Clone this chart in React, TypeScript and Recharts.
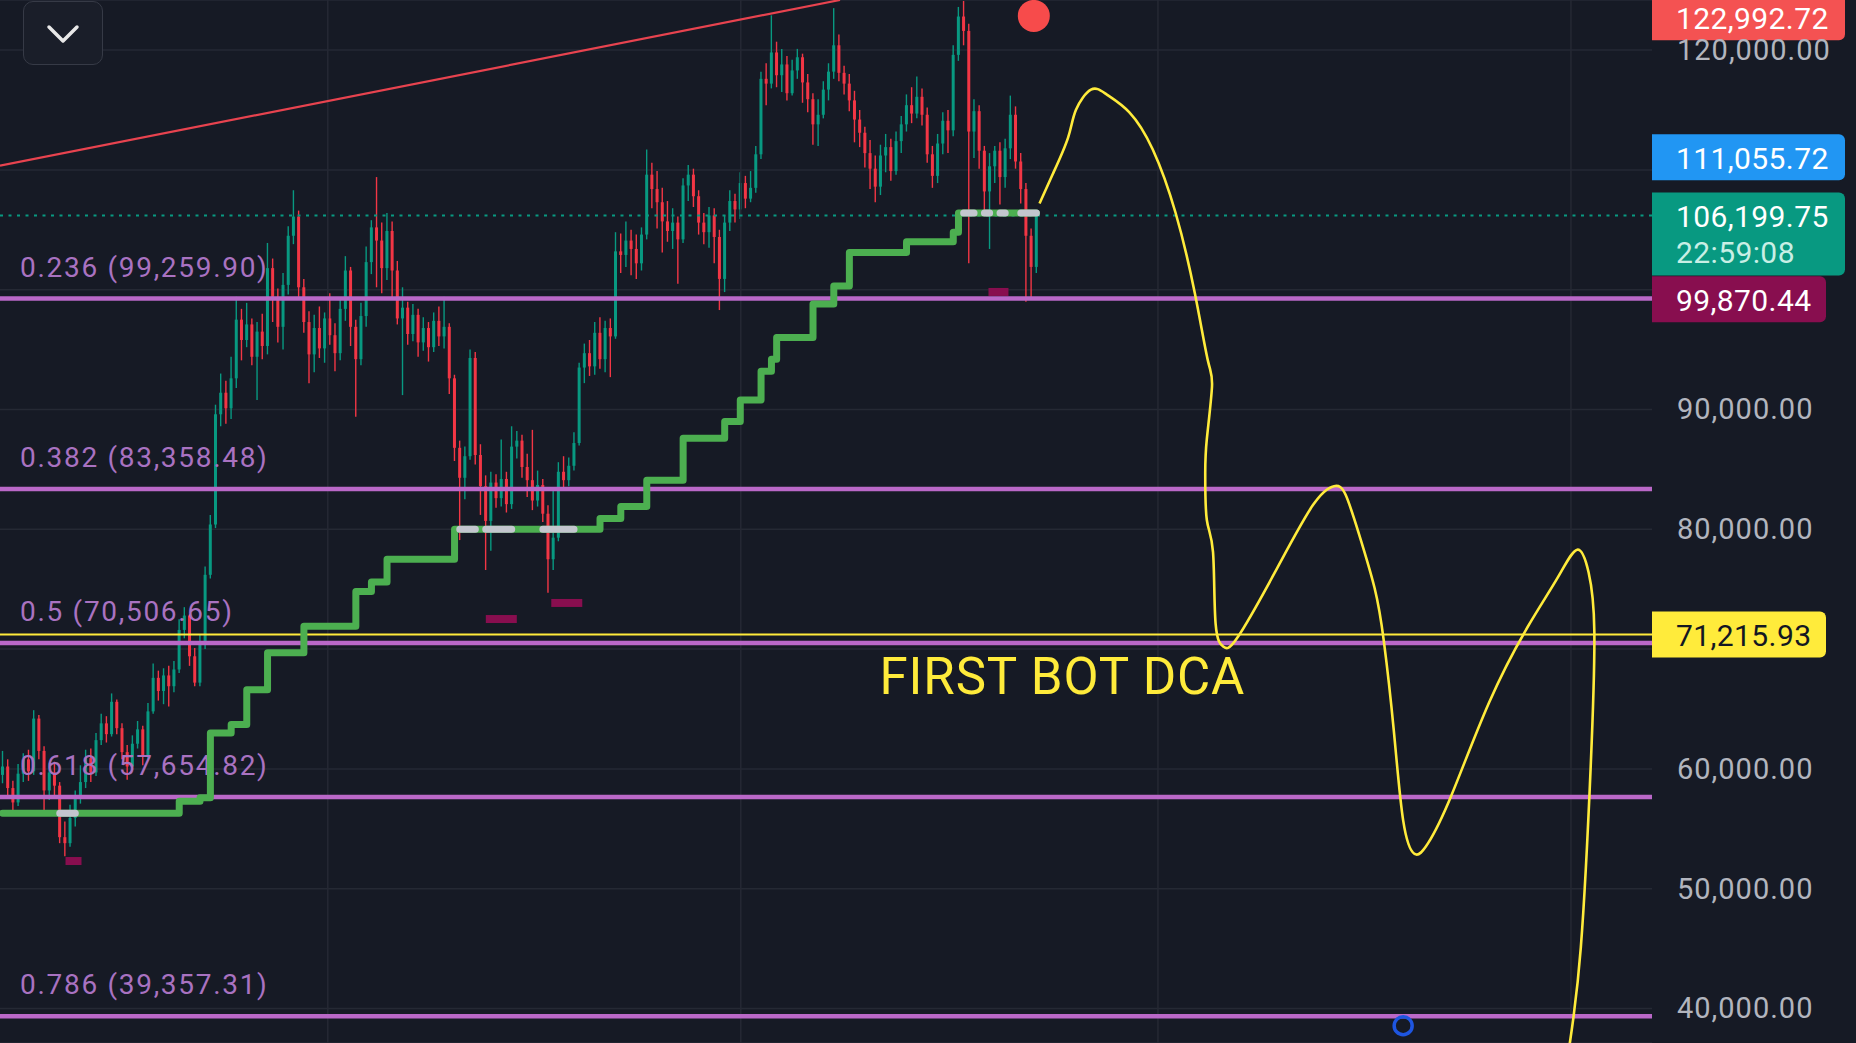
import React from "react";
import {
  Bar,
  CartesianGrid,
  ComposedChart,
  Line,
  ReferenceDot,
  ReferenceLine,
  XAxis,
  YAxis,
} from "recharts";

const WIDTH = 1856;
const HEIGHT = 1043;
const AXIS_WIDTH = 204;
// candle slots incl. the empty space on the right used for the drawing
const SLOTS = 318;

const BG = "#161a25";
const GRID = "#252934";
const UP = "#089981";
const DOWN = "#f23645";
const FIB_LINE = "#ba68c8";
const FIB_TEXT = "#a972c1";
const YELLOW = "#ffeb3b";
const STEP_GREEN = "#4caf50";
const STEP_GRAY = "#c3c6ce";
const FONT = "Roboto, 'Noto Sans', sans-serif";

// candles, in thousands of USD; open = previous close
const FIRST_OPEN = 59.5;
const CLOSE = [
  60.2, 58.4, 57.2, 59.6, 60.8, 59.8, 64.2, 61.5, 58.2, 59.7,
  58.6, 54.3, 53.8, 55.9, 57.6, 58.9, 60.9, 59.7, 62.4, 63.8,
  62.9, 65.6, 63.4, 61.4, 60.2, 62.1, 63.3, 61.0, 64.8, 67.6,
  66.5, 67.8, 66.9, 68.3, 71.6, 72.8, 69.4, 67.2, 70.4, 76.2,
  80.4, 89.6, 91.4, 90.1, 92.6, 97.5, 95.8, 97.1, 94.4, 96.5,
  95.3, 101.8, 99.4, 96.9, 100.4, 104.5, 106.1, 100.2, 97.3, 94.6,
  96.8, 95.1, 97.6, 96.2, 94.7, 98.4, 101.6, 96.9, 94.2, 97.8,
  102.3, 105.2, 104.1, 101.8, 104.9, 101.6, 97.6, 98.5, 96.3, 97.9,
  95.6, 96.8, 95.2, 97.4, 96.1, 96.9, 92.6, 86.8, 84.3, 86.1,
  94.3, 86.2, 83.6, 80.7, 83.9, 82.6, 84.2, 82.1, 86.9, 87.4,
  85.2, 84.1, 82.4, 83.7, 81.3, 77.5, 79.3, 84.8, 84.1, 85.3,
  87.2, 93.5, 94.7, 93.6, 96.4, 94.2, 96.8, 96.1, 103.2, 102.9,
  104.1, 103.4, 102.2, 104.6, 109.6, 108.4, 107.3, 105.7, 104.9, 105.6,
  104.2, 108.7, 109.6, 107.8, 105.6, 104.8, 106.2, 104.4, 100.9, 105.6,
  107.4, 106.7, 108.9, 107.6, 108.5, 111.3, 117.6, 117.2, 119.8, 117.9,
  118.8, 116.4, 118.3, 119.4, 117.3, 115.9, 113.8, 114.6, 116.7, 118.2,
  120.4, 118.1, 117.2, 115.8, 114.2, 113.1, 111.4, 110.1, 108.6, 111.2,
  111.9, 109.9, 112.4, 113.8, 115.4, 114.7, 116.1, 114.6, 111.3, 109.5,
  112.2, 114.1, 113.3, 119.6, 122.8, 121.6, 113.2, 114.9, 111.6, 108.2,
  110.3, 111.6, 109.4, 111.8, 114.6, 110.7, 108.4, 104.5, 101.9, 106.2,
];
const HIGH = [
  61.5, 60.8, 59.0, 60.4, 61.3, 61.6, 64.9, 64.5, 61.9, 60.5,
  60.6, 58.9, 55.6, 57.0, 58.2, 60.3, 61.6, 61.7, 63.0, 64.6,
  64.4, 66.3, 65.8, 63.8, 62.0, 62.8, 64.0, 63.6, 65.5, 68.8,
  68.2, 68.4, 68.6, 69.0, 72.5, 73.5, 72.9, 70.1, 71.2, 76.9,
  81.2, 90.4, 93.0, 92.4, 94.4, 99.4, 98.4, 98.9, 97.6, 97.3,
  98.0, 103.9, 102.6, 100.1, 101.4, 105.3, 108.3, 106.6, 100.9, 98.2,
  97.9, 98.6, 98.1, 99.7, 97.2, 99.3, 102.8, 101.9, 97.5, 98.9,
  103.6, 105.8, 109.4, 105.6, 106.4, 105.7, 102.4, 100.2, 99.0, 98.8,
  98.4, 97.7, 97.3, 98.1, 98.6, 99.4, 97.2, 92.9, 87.4, 86.9,
  95.0, 94.8, 87.1, 84.5, 84.8, 84.6, 87.5, 84.8, 88.6, 88.2,
  87.9, 86.3, 88.3, 84.9, 84.2, 82.0, 83.2, 85.6, 86.1, 86.0,
  88.1, 93.9, 95.5, 95.8, 97.3, 97.7, 97.4, 97.6, 104.8, 104.7,
  105.7, 105.0, 104.6, 105.2, 111.7, 110.6, 109.9, 108.5, 107.4, 106.8,
  106.1, 109.3, 110.4, 110.1, 108.3, 106.4, 106.9, 106.8, 105.0, 106.2,
  108.3, 108.0, 109.8, 109.5, 109.9, 112.0, 118.2, 118.9, 122.9, 120.7,
  120.1, 119.5, 119.2, 120.1, 119.7, 118.0, 116.4, 115.9, 117.4, 118.9,
  123.5, 121.3, 118.7, 118.0, 116.6, 115.0, 113.6, 112.5, 111.2, 112.1,
  113.0, 112.6, 113.2, 114.5, 116.3, 116.9, 117.8, 116.8, 115.2, 112.0,
  113.0, 114.8, 115.0, 120.4, 123.6, 124.1, 122.2, 115.9, 115.4, 112.0,
  111.4, 112.0, 112.3, 112.6, 116.2, 115.3, 111.4, 108.9, 105.1, 106.4,
];
const LOW = [
  58.8, 57.6, 56.3, 56.9, 58.9, 59.0, 59.5, 60.8, 56.3, 57.4,
  57.8, 53.8, 52.7, 53.5, 55.2, 57.1, 58.4, 58.9, 59.4, 62.0,
  62.2, 62.7, 62.9, 60.8, 59.1, 59.9, 61.7, 60.3, 60.8, 64.6,
  65.7, 65.4, 65.2, 66.4, 68.0, 70.9, 68.6, 66.9, 66.9, 70.0,
  75.9, 80.1, 88.6, 88.8, 89.2, 91.8, 94.1, 95.2, 93.7, 90.8,
  94.2, 94.6, 97.3, 95.6, 95.0, 99.6, 103.8, 99.4, 96.4, 92.2,
  93.1, 94.3, 93.9, 95.4, 93.2, 94.1, 97.4, 95.3, 89.4, 93.7,
  96.9, 101.3, 100.2, 99.7, 100.8, 99.2, 97.1, 91.2, 95.4, 95.7,
  94.4, 94.9, 94.0, 94.8, 95.3, 95.1, 91.3, 85.7, 79.1, 82.5,
  85.8, 85.4, 81.2, 76.6, 78.2, 81.8, 81.9, 81.4, 81.7, 85.9,
  84.3, 82.7, 81.6, 81.9, 80.6, 74.7, 76.6, 79.0, 83.2, 83.6,
  84.9, 87.0, 92.2, 92.8, 92.9, 93.4, 93.1, 92.7, 95.9, 101.4,
  101.9, 101.2, 100.9, 101.6, 104.2, 106.8, 105.1, 103.1, 104.0, 103.4,
  100.5, 103.9, 107.4, 106.9, 104.6, 103.8, 103.5, 102.2, 98.3, 99.8,
  104.9, 105.6, 105.9, 106.8, 107.3, 108.1, 110.9, 115.4, 116.8, 116.9,
  116.5, 115.8, 116.2, 117.6, 115.6, 114.8, 112.1, 112.0, 114.3, 115.8,
  117.6, 117.4, 116.3, 114.9, 112.3, 111.9, 110.2, 108.4, 107.3, 107.9,
  109.8, 109.1, 109.6, 111.4, 113.2, 113.9, 114.3, 113.7, 110.6, 108.5,
  108.9, 111.3, 111.4, 112.8, 119.1, 120.4, 102.2, 111.0, 110.1, 106.3,
  103.4, 108.9, 107.1, 108.5, 110.9, 110.1, 107.2, 99.0, 99.3, 101.4,
];

// stepped trailing level: [first candle index, level in thousands]
const STEP_LEVELS: [number, number][] = [
  [0, 56.3], [34, 57.3], [38, 57.6], [40, 63.0], [44, 63.7], [47, 66.6], [51, 69.7],
  [58, 71.9], [68, 74.8], [71, 75.6], [74, 77.5], [87, 80.0], [115, 80.9],
  [119, 81.9], [124, 84.1], [131, 87.6], [139, 89.0], [142, 90.8], [146, 93.2],
  [148, 94.2], [149, 96.0], [156, 98.8], [160, 100.3], [163, 103.1], [174, 104.0],
  [183, 104.8], [184, 106.4],
];
// candle ranges where the level turns grey
const STEP_GRAY_RANGES: [number, number][] = [
  [11, 14], [88, 91], [93, 98], [104, 110], [185, 187], [189, 190], [192, 193], [196, 199],
];

const FIB_RATIOS = ["0.236", "0.382", "0.5", "0.618", "0.786"];
const FIB_PRICES = [99259.9, 83358.48, 70506.65, 57654.82, 39357.31];

const Y_TICKS = [40000, 50000, 60000, 70000, 80000, 90000, 100000, 110000, 120000];
const Y_LABELED = [40000, 50000, 60000, 80000, 90000, 120000];
const GRID_X = [62.6, 142.1, 222.4, 301.9];

const LAST_PRICE = 106199.75;
const DCA_LEVEL = 71215.93;
const COUNTDOWN = "22:59:08";

const TAG_VALUES = [122992.72, 111055.72, 106199.75, 99870.44, 71215.93];
const TAG_COLORS = ["#f45252", "#2196f3", UP, "#880e4f", YELLOW];
const TAG_TEXT = ["#ffffff", "#ffffff", "#ffffff", "#ffffff", "#131722"];
// vertical push (px) the price scale gives colliding tags
const TAG_NUDGE = [3, 0, 0, 8, 0];

// red trend line, x in candle slots
const TREND_X = [-0.5, 161.2];
const TREND_Y = [110351, 124180];

// hand-drawn projection (x in candle slots, price in thousands)
const CURVE_X = [
  199.6, 202.2, 205.1, 206.6, 209.5, 212.5, 216.9, 221.4, 225.8, 229.5,
  232.0, 232.8, 231.8, 231.5, 231.8, 233.0, 233.5, 235.0, 237.6, 244.9,
  252.2, 256.3, 258.5, 261.1, 264.1, 265.9, 267.8, 269.6, 271.8, 274.4,
  278.8, 286.1, 293.5, 299.4, 303.1, 305.3, 306.4, 305.7, 303.8, 301.5,
];
const CURVE_Y = [
  107.2, 109.7, 112.7, 115.0, 116.7, 116.3, 114.8, 111.7, 106.4, 99.7,
  94.1, 91.9, 87.5, 84.7, 80.8, 78.1, 72.1, 70.2, 70.9, 76.4,
  82.0, 83.6, 82.9, 79.6, 75.1, 70.6, 63.2, 55.7, 52.9, 53.8,
  57.7, 65.5, 71.8, 76.0, 78.3, 76.4, 71.5, 60.2, 45.1, 36.6,
];

const MARKER_X = [13.65, 96.0, 108.6, 191.7];
const MARKER_Y = [52310, 72510, 73850, 99810];
const MARKER_W = [16, 31, 31, 20];

const ALERT_DOT = { x: 198.5, y: 122850 };
const RING = { x: 269.6, y: 38560 };
const NOTE = { x: 168.8, y: 66290, text: "FIRST BOT DCA" };

const fmt = (v: number) =>
  v.toLocaleString("en-US", { minimumFractionDigits: 2, maximumFractionDigits: 2 });

function stepAt(i: number) {
  let level = STEP_LEVELS[0][1];
  for (const [from, v] of STEP_LEVELS) if (i >= from) level = v;
  return level;
}

const isGray = (i: number) => STEP_GRAY_RANGES.some(([a, b]) => i >= a && i <= b);

const rows = Array.from({ length: SLOTS }, (_, i) => {
  if (i >= CLOSE.length) return { i };
  const open = i === 0 ? FIRST_OPEN : CLOSE[i - 1];
  const close = CLOSE[i];
  const high = Math.max(HIGH[i], open, close);
  const low = Math.min(LOW[i], open, close);
  const step = stepAt(i) * 1000;
  return {
    i,
    open: open * 1000,
    close: close * 1000,
    high: high * 1000,
    low: low * 1000,
    range: [low * 1000, high * 1000],
    step,
    stepGray: isGray(i) ? step : null,
  };
});

const curve = CURVE_X.map((x, k) => ({ x, y: CURVE_Y[k] * 1000 }));

function Candle(props: any) {
  const { x, y, width, height, payload } = props;
  if (!payload || payload.open == null || !Number.isFinite(y)) return null;
  const { open, close, high, low } = payload;
  const top = Math.min(y, y + height);
  const h = Math.abs(height);
  const k = high > low ? h / (high - low) : 0;
  const yOf = (v: number) => top + (high - v) * k;
  const color = close >= open ? UP : DOWN;
  const cx = x + width / 2;
  const bw = Math.max(2, width * 0.6);
  const b1 = yOf(Math.max(open, close));
  const b2 = yOf(Math.min(open, close));
  return (
    <g>
      <line x1={cx} x2={cx} y1={top} y2={top + h} stroke={color} strokeWidth={1.4} />
      <rect x={cx - bw / 2} y={b1} width={bw} height={Math.max(1.2, b2 - b1)} fill={color} />
    </g>
  );
}

function AxisTick(props: any) {
  const { x, y, payload } = props;
  if (!Y_LABELED.includes(payload.value)) return <g />;
  return (
    <text
      x={x + 25}
      y={y}
      dominantBaseline="central"
      fill="#b2b5be"
      fontSize={29}
      letterSpacing={1}
      fontFamily={FONT}
    >
      {fmt(payload.value)}
    </text>
  );
}

const fibLabel = (text: string) => (props: any) => {
  const vb = props.viewBox;
  return (
    <text x={vb.x + 20} y={vb.y - 22} fill={FIB_TEXT} fontSize={28} letterSpacing={1.7} fontFamily={FONT}>
      {text}
    </text>
  );
};

const priceTag = (k: number) => (props: any) => {
  const vb = props.viewBox;
  const value = TAG_VALUES[k];
  const label = fmt(value);
  const isLast = value === LAST_PRICE;
  const x = vb.x + vb.width;
  const cy = vb.y + TAG_NUDGE[k];
  const w = label.length >= 10 ? 193 : 174;
  const h = 46 + (isLast ? 37 : 0);
  const top = cy - 23;
  const r = 6;
  const d = `M${x},${top} h${w - r} a${r},${r} 0 0 1 ${r},${r} v${h - 2 * r} a${r},${r} 0 0 1 ${-r},${r} h${-(w - r)} z`;
  return (
    <g>
      <path d={d} fill={TAG_COLORS[k]} />
      <text x={x + 24} y={cy + 1} dominantBaseline="central" fill={TAG_TEXT[k]} fontSize={30} letterSpacing={0.4} fontFamily={FONT}>
        {label}
      </text>
      {isLast ? (
        <text x={x + 24} y={cy + 37} dominantBaseline="central" fill="#c8efe5" fontSize={30} letterSpacing={0.4} fontFamily={FONT}>
          {COUNTDOWN}
        </text>
      ) : null}
    </g>
  );
};

export default function App() {
  return (
    <div style={{ position: "fixed", left: 0, top: 0, width: WIDTH, height: HEIGHT, background: BG, overflow: "hidden" }}>
      <ComposedChart
        width={WIDTH}
        height={HEIGHT}
        data={rows}
        margin={{ top: 0, right: 0, bottom: 0, left: 0 }}
        barCategoryGap={0}
        barGap={0}
      >
        <CartesianGrid vertical={false} stroke={GRID} strokeWidth={1.5} />
        <XAxis xAxisId="c" dataKey="i" type="category" hide />
        <XAxis xAxisId="n" dataKey="x" type="number" domain={[-0.5, SLOTS - 0.5]} allowDataOverflow hide />
        <YAxis
          orientation="right"
          width={AXIS_WIDTH}
          domain={[37120, 124180]}
          ticks={Y_TICKS}
          interval={0}
          allowDataOverflow
          axisLine={false}
          tickLine={false}
          tickSize={0}
          tickMargin={0}
          tick={<AxisTick />}
        />

        {GRID_X.map((x) => (
          <ReferenceLine key={`gx${x}`} xAxisId="n" x={x} stroke={GRID} strokeWidth={1.5} />
        ))}

        {FIB_PRICES.map((p, k) => (
          <ReferenceLine
            key={`fl${k}`}
            xAxisId="n"
            y={p}
            stroke="none"
            label={fibLabel(`${FIB_RATIOS[k]} (${fmt(p)})`)}
          />
        ))}

        <ReferenceLine xAxisId="n" y={LAST_PRICE} stroke={UP} strokeWidth={2} strokeDasharray="3 5.5" />

        <Bar
          xAxisId="c"
          dataKey="range"
          shape={(p: any) => <Candle {...p} />}
          activeBar={false}
          isAnimationActive={false}
        />

        {FIB_PRICES.map((p, k) => (
          <ReferenceLine key={`f${k}`} xAxisId="n" y={p} stroke={FIB_LINE} strokeWidth={4.5} />
        ))}
        <ReferenceLine xAxisId="n" y={DCA_LEVEL} stroke={YELLOW} strokeWidth={2} />

        <Line
          xAxisId="c"
          dataKey="step"
          type="stepAfter"
          stroke={STEP_GREEN}
          strokeWidth={7}
          strokeLinejoin="round"
          strokeLinecap="round"
          dot={false}
          activeDot={false}
          isAnimationActive={false}
        />
        <Line
          xAxisId="c"
          dataKey="stepGray"
          type="stepAfter"
          stroke={STEP_GRAY}
          strokeWidth={7}
          strokeLinecap="round"
          dot={false}
          activeDot={false}
          isAnimationActive={false}
        />

        <ReferenceLine
          xAxisId="n"
          segment={[
            { x: TREND_X[0], y: TREND_Y[0] },
            { x: TREND_X[1], y: TREND_Y[1] },
          ]}
          stroke="#e8434f"
          strokeWidth={2.2}
          ifOverflow="visible"
        />

        {MARKER_X.map((x, k) => (
          <ReferenceDot
            key={`m${k}`}
            xAxisId="n"
            x={x}
            y={MARKER_Y[k]}
            r={4}
            shape={(p: any) => (
              <rect x={p.cx - MARKER_W[k] / 2} y={p.cy - 4} width={MARKER_W[k]} height={8} fill="#880e4f" />
            )}
          />
        ))}

        <ReferenceDot xAxisId="n" x={ALERT_DOT.x} y={ALERT_DOT.y} r={16} fill="#f74b4b" stroke="none" />
        <ReferenceDot xAxisId="n" x={RING.x} y={RING.y} r={9} fill="none" stroke="#1e55e0" strokeWidth={3.5} />

        <Line
          xAxisId="n"
          data={curve}
          dataKey="y"
          type="natural"
          stroke={YELLOW}
          strokeWidth={2.6}
          dot={false}
          activeDot={false}
          isAnimationActive={false}
        />

        <ReferenceDot
          xAxisId="n"
          x={NOTE.x}
          y={NOTE.y}
          r={1}
          shape={(p: any) => (
            <text x={p.cx} y={p.cy} fill={YELLOW} fontSize={51} letterSpacing={0.9} fontFamily={FONT}>
              {NOTE.text}
            </text>
          )}
        />

        {TAG_VALUES.map((v, k) => (
          <ReferenceLine key={`t${k}`} xAxisId="n" y={v} stroke="none" label={priceTag(k)} />
        ))}
      </ComposedChart>

      <div
        style={{
          position: "absolute",
          left: 23,
          top: 1,
          width: 80,
          height: 64,
          boxSizing: "border-box",
          border: "1.5px solid #363a46",
          borderRadius: 10,
          background: "#1a1e29",
        }}
      >
        <svg width={80} height={64} style={{ position: "absolute", left: -1.5, top: -1.5 }}>
          <polyline points="26,26 40,40 54,26" fill="none" stroke="#e8e8e8" strokeWidth={3.5} strokeLinecap="round" strokeLinejoin="round" />
        </svg>
      </div>
    </div>
  );
}
